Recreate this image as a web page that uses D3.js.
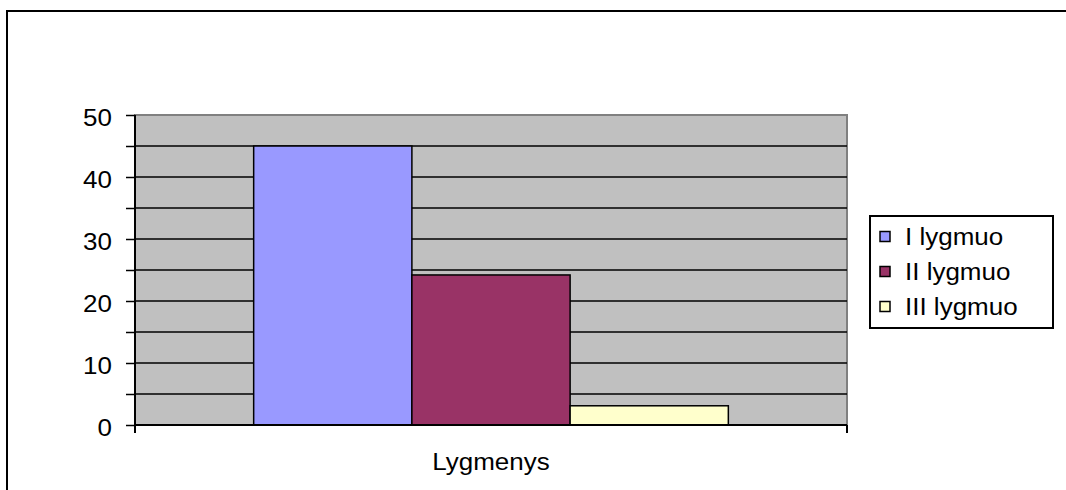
<!DOCTYPE html>
<html>
<head>
<meta charset="utf-8">
<script src="https://cdn.jsdelivr.net/npm/d3@7"></script>
<style>
  body { margin: 0; background: #fff; }
  text { font-family: "Liberation Sans", Arial, sans-serif; fill: #000; }
</style>
</head>
<body>
<div id="plot"></div>
<script>
// chart data
const categories = ["Lygmenys"];
const seriesNames = ["I lygmuo", "II lygmuo", "III lygmuo"];
const seriesValues = [45, 24.2, 3.1];
const seriesColors = ["#9999FF", "#993366", "#FFFFCC"];
const gridTicks = [0, 5, 10, 15, 20, 25, 30, 35, 40, 45, 50];
const labelTicks = [0, 10, 20, 30, 40, 50];

const W = 1066, H = 490;
const plot = { left: 135, right: 847, top: 115, bottom: 425 };
const fontSize = "23px";
const stretch = 1.13; // the original picture is a little wider than tall

const svg = d3.select("#plot").append("svg")
  .attr("width", W)
  .attr("height", H);

// outer chart border (runs off the right and bottom of the picture)
svg.append("rect")
  .attr("x", 7).attr("y", 11)
  .attr("width", W + 20).attr("height", H + 20)
  .attr("fill", "#fff")
  .attr("stroke", "#000")
  .attr("stroke-width", 2);

// scales
const y = d3.scaleLinear().domain([0, 50]).range([plot.bottom, plot.top]);
const x0 = d3.scaleBand().domain(categories).range([plot.left, plot.right])
  .paddingInner(0).paddingOuter(0.25); // gap width 150%
const x1 = d3.scaleBand().domain(seriesNames).range([0, x0.bandwidth()]);
const color = d3.scaleOrdinal().domain(seriesNames).range(seriesColors);

// plot area background
svg.append("rect")
  .attr("x", plot.left).attr("y", plot.top)
  .attr("width", plot.right - plot.left).attr("height", plot.bottom - plot.top)
  .attr("fill", "#C0C0C0")
  .attr("stroke", "#808080")
  .attr("stroke-width", 2);

// gridlines
svg.append("g").selectAll("line")
  .data(gridTicks.filter(d => d > 0 && d < 50))
  .enter().append("line")
  .attr("x1", plot.left).attr("x2", plot.right)
  .attr("y1", d => y(d)).attr("y2", d => y(d))
  .attr("stroke", "#000")
  .attr("stroke-width", 1.5);

// bars
const rows = seriesNames.map((s, i) => ({ cat: categories[0], name: s, value: seriesValues[i] }));
svg.append("g").selectAll("rect")
  .data(rows)
  .enter().append("rect")
  .attr("x", d => x0(d.cat) + x1(d.name))
  .attr("y", d => y(d.value))
  .attr("width", x1.bandwidth())
  .attr("height", d => y(0) - y(d.value))
  .attr("fill", d => color(d.name))
  .attr("stroke", "#000")
  .attr("stroke-width", 1.5);

// y axis: ticks every 5, labels every 10
const yAxis = svg.append("g")
  .attr("transform", `translate(${plot.left},0)`)
  .call(d3.axisLeft(y).tickValues(gridTicks).tickSize(9).tickFormat(d => labelTicks.includes(d) ? d : ""));
yAxis.select(".domain").attr("stroke", "#000").attr("stroke-width", 2)
  .attr("d", `M0,${plot.top}V${plot.bottom + 8}`);
yAxis.selectAll(".tick line").attr("stroke", "#000").attr("stroke-width", 1.5);
yAxis.selectAll(".tick text")
  .attr("dy", "0.45em")
  .style("font-size", fontSize)
  .attr("transform", `scale(${stretch},1)`)
  .attr("x", -23 / stretch);

// x axis line + boundary ticks
const xAxis = svg.append("g");
xAxis.append("line")
  .attr("x1", plot.left).attr("x2", plot.right)
  .attr("y1", y(0)).attr("y2", y(0))
  .attr("stroke", "#000").attr("stroke-width", 2);
xAxis.selectAll(".bnd")
  .data(x0.range())
  .enter().append("line")
  .attr("class", "bnd")
  .attr("x1", d => d).attr("x2", d => d)
  .attr("y1", y(0)).attr("y2", y(0) + 8)
  .attr("stroke", "#000").attr("stroke-width", 2);
xAxis.selectAll(".cat")
  .data(categories)
  .enter().append("text")
  .attr("class", "cat")
  .attr("transform", d => `translate(${x0(d) + x0.bandwidth() / 2},470) scale(${stretch},1)`)
  .attr("text-anchor", "middle")
  .style("font-size", fontSize)
  .text(d => d);

// legend
const legend = svg.append("g").attr("transform", "translate(870,216)");
legend.append("rect")
  .attr("width", 183).attr("height", 112)
  .attr("fill", "#fff").attr("stroke", "#000").attr("stroke-width", 2);
const items = legend.selectAll(".legend-item")
  .data(seriesNames)
  .enter().append("g")
  .attr("class", "legend-item")
  .attr("transform", (d, i) => `translate(10, ${20.5 + i * 35})`);
items.append("rect")
  .attr("y", -5).attr("width", 10).attr("height", 10)
  .attr("fill", d => color(d))
  .attr("stroke", "#000").attr("stroke-width", 1.5);
items.append("text")
  .attr("transform", `translate(25,8.5) scale(${stretch},1)`)
  .style("font-size", fontSize)
  .text(d => d);
</script>
</body>
</html>
